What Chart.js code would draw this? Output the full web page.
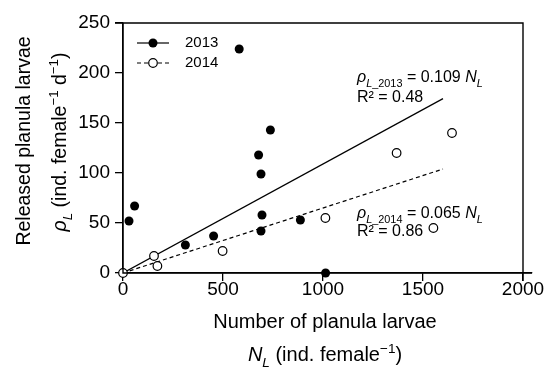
<!DOCTYPE html>
<html>
<head>
<meta charset="utf-8">
<script src="https://cdn.jsdelivr.net/npm/chart.js@4/dist/chart.umd.min.js"></script>
<style>
html,body{margin:0;padding:0;background:#fff;}
canvas{display:block;}
</style>
</head>
<body>
<canvas id="c" width="547" height="367"></canvas>
<script>
// ---- data ----
const x2013 = [30, 58, 312, 453, 581, 678, 690, 695, 690, 737, 887, 1013];
const y2013 = [52, 67, 28, 37, 224, 118, 99, 58, 42, 143, 53, 0];
const x2014 = [0, 155, 172, 498, 1012, 1368, 1552, 1645];
const y2014 = [0, 17, 7, 22, 55, 120, 45, 140];
const fitX = [0, 1600];
const fit2013Y = [0, 174.4];
const fit2014Y = [0, 104];
const xTicks = [0, 500, 1000, 1500, 2000];
const yTicks = [0, 50, 100, 150, 200, 250];
const seriesNames = ['2013', '2014'];

const FONT = '"Liberation Sans", Arial, sans-serif';
const pts = (xs, ys) => xs.map((x, i) => ({x: x, y: ys[i]}));

function drawRich(ctx, segs, x, y, size, align) {
  const parts = segs.map(s => {
    const fs = (s.sub || s.sup) ? size * 0.68 : size;
    const font = (s.it ? 'italic ' : '') + fs + 'px ' + FONT;
    ctx.font = font;
    return {s, font, w: ctx.measureText(s.t).width,
            dy: s.sub ? size * 0.3 : (s.sup ? -size * 0.42 : 0)};
  });
  const total = parts.reduce((a, p) => a + p.w, 0);
  let cx = align === 'center' ? x - total / 2 : x;
  ctx.textBaseline = 'alphabetic';
  ctx.textAlign = 'left';
  parts.forEach(p => {
    ctx.font = p.font;
    ctx.fillText(p.s.t, cx, y + p.dy);
    cx += p.w;
  });
}

const deco = {
  id: 'deco',
  afterDraw(chart) {
    const ctx = chart.ctx;
    const xs = chart.scales.x, ys = chart.scales.y;
    const a = chart.chartArea;
    ctx.save();
    ctx.setLineDash([]);
    ctx.globalAlpha = 1;
    ctx.fillStyle = '#000';
    ctx.strokeStyle = '#000';
    ctx.lineWidth = 1.4;
    // frame: top and right
    const xr = Math.round(xs.getPixelForValue(2000));
    const yt = Math.round(a.top);
    ctx.beginPath();
    ctx.moveTo(a.left - 8, yt);
    ctx.lineTo(xr, yt);
    ctx.lineTo(xr, a.bottom + 8);
    ctx.stroke();
    // axes lines
    ctx.beginPath();
    ctx.moveTo(Math.round(a.left), yt);
    ctx.lineTo(Math.round(a.left), Math.round(a.bottom));
    ctx.lineTo(Math.round(a.right), Math.round(a.bottom));
    ctx.stroke();

    // legend
    const lx = a.left + 14, ly1 = a.top + 20, ly2 = a.top + 40;
    ctx.lineWidth = 1.2;
    ctx.beginPath(); ctx.moveTo(lx, ly1); ctx.lineTo(lx + 32, ly1); ctx.stroke();
    ctx.setLineDash([4, 3]);
    ctx.beginPath(); ctx.moveTo(lx, ly2); ctx.lineTo(lx + 32, ly2); ctx.stroke();
    ctx.setLineDash([]);
    ctx.beginPath(); ctx.arc(lx + 16, ly1, 4.5, 0, Math.PI * 2); ctx.fill();
    ctx.beginPath(); ctx.arc(lx + 16, ly2, 4.3, 0, Math.PI * 2);
    ctx.fillStyle = '#fff'; ctx.fill(); ctx.stroke();
    ctx.fillStyle = '#000';
    ctx.font = '15px ' + FONT;
    ctx.textBaseline = 'middle';
    ctx.textAlign = 'left';
    ctx.fillText(seriesNames[0], lx + 48, ly1);
    ctx.fillText(seriesNames[1], lx + 48, ly2);

    // equations
    const ex = a.left + 234;
    drawRich(ctx, [{t:'ρ', it:true},{t:'L', it:true, sub:true},{t:'_2013', sub:true},{t:' = 0.109 '},{t:'N', it:true},{t:'L', it:true, sub:true}], ex, a.top + 59, 16);
    drawRich(ctx, [{t:'R² = 0.48'}], ex, a.top + 79, 16);
    drawRich(ctx, [{t:'ρ', it:true},{t:'L', it:true, sub:true},{t:'_2014', sub:true},{t:' = 0.065 '},{t:'N', it:true},{t:'L', it:true, sub:true}], ex, a.top + 195, 16);
    drawRich(ctx, [{t:'R² = 0.86'}], ex, a.top + 213, 16);

    // x titles
    const xc = (xs.getPixelForValue(0) + xs.getPixelForValue(2000)) / 2 + 2;
    drawRich(ctx, [{t:'Number of planula larvae'}], xc, 328, 20, 'center');
    drawRich(ctx, [{t:'N', it:true},{t:'L', it:true, sub:true},{t:' (ind. female'},{t:'−1', sup:true},{t:')'}], xc, 361, 20, 'center');

    // y titles (rotated)
    const yc = (ys.getPixelForValue(0) + ys.getPixelForValue(250)) / 2;
    ctx.save();
    ctx.translate(30, yc - 7);
    ctx.rotate(-Math.PI / 2);
    drawRich(ctx, [{t:'Released planula larvae'}], 0, 0, 19.5, 'center');
    ctx.restore();
    ctx.save();
    ctx.translate(66, yc - 6);
    ctx.rotate(-Math.PI / 2);
    drawRich(ctx, [{t:'ρ', it:true},{t:'L', it:true, sub:true},{t:' (ind. female'},{t:'−1', sup:true},{t:' d'},{t:'−1', sup:true},{t:')'}], 0, 0, 19.5, 'center');
    ctx.restore();
    ctx.restore();
  }
};

new Chart(document.getElementById('c'), {
  type: 'scatter',
  data: {
    datasets: [
      {label: '2014', data: pts(x2014, y2014), order: 1, clip: false,
       pointRadius: 4.3, pointBackgroundColor: '#fff', pointBorderColor: '#000', pointBorderWidth: 1.2, showLine: false},
      {label: '2013', data: pts(x2013, y2013), order: 2, clip: false,
       pointRadius: 4.5, pointBackgroundColor: '#000', pointBorderColor: '#000', pointBorderWidth: 0, showLine: false},
      {label: 'fit2013', type: 'line', data: pts(fitX, fit2013Y), order: 3,
       borderColor: '#000', borderWidth: 1.2, pointRadius: 0, fill: false},
      {label: 'fit2014', type: 'line', data: pts(fitX, fit2014Y), order: 4,
       borderColor: '#000', borderWidth: 1.2, borderDash: [4, 3], pointRadius: 0, fill: false}
    ]
  },
  options: {
    responsive: false,
    animation: false,
    devicePixelRatio: 1,
    layout: {padding: {top: 23, right: 15, left: 0, bottom: 0}},
    plugins: {legend: {display: false}, tooltip: {enabled: false}},
    scales: {
      x: {
        type: 'linear', min: 0, max: 2045,
        afterFit: s => { s.height = 94; },
        afterBuildTicks: s => { s.ticks = xTicks.map(v => ({value: v})); },
        ticks: {font: {family: FONT, size: 19}, color: '#000', padding: -3, includeBounds: false, maxRotation: 0,
                callback: v => String(v)},
        grid: {display: true, drawOnChartArea: false, drawTicks: true, tickLength: 8, color: '#000', lineWidth: 1.3},
        border: {display: true, color: '#000', width: 1.3}
      },
      y: {
        type: 'linear', min: 0, max: 250,
        afterFit: s => { s.width = 123; },
        afterBuildTicks: s => { s.ticks = yTicks.map(v => ({value: v})); },
        ticks: {font: {family: FONT, size: 19}, color: '#000', padding: 5, callback: v => String(v)},
        grid: {display: true, drawOnChartArea: false, drawTicks: true, tickLength: 8, color: '#000', lineWidth: 1.3},
        border: {display: true, color: '#000', width: 1.3}
      }
    }
  },
  plugins: [deco]
});
</script>
</body>
</html>
